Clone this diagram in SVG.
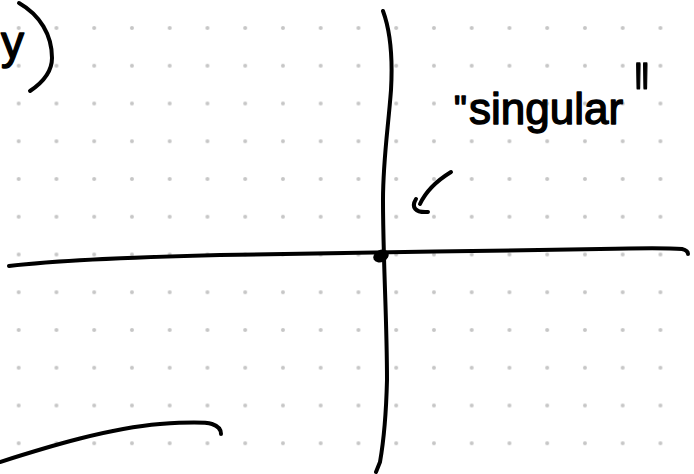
<svg xmlns="http://www.w3.org/2000/svg" width="694" height="474" viewBox="0 0 694 474">
  <style>
    .ink { fill: none; stroke: #000; stroke-width: 4; stroke-linecap: round; stroke-linejoin: round; }
    .hand { font-family: "Liberation Sans", "DejaVu Sans", sans-serif; fill: #000; stroke: #000; stroke-width: 1.4; stroke-linejoin: round; }
  </style>
  <defs>
    <pattern id="dots" patternUnits="userSpaceOnUse" x="-0.175" y="9.125" width="37.75" height="37.75">
      <circle cx="18.875" cy="18.875" r="2" fill="#c6c6c6"/>
    </pattern>
  </defs>
  <rect width="694" height="474" fill="#ffffff"/>
  <rect width="694" height="474" fill="url(#dots)"/>

  <g id="label-y">
    <text class="hand" x="1" y="58" font-size="46">y</text>
    <path class="ink" d="M19,3 C40,15 52,35 52,58 C52,72 42,83 30,91"/>
  </g>

  <g id="axes">
    <path class="ink" d="M9,266 C60,260 140,257 220,255 C330,253 480,251 600,249 C640,248 670,248 682,249 C686,250 688,252 688,254"/>
    <path class="ink" d="M383,11 C390,30 393,55 391,90 C388,130 383,160 383,200 C383,260 387,320 387,380 C386,420 383,445 380,462 L376,472"/>
    <ellipse cx="381" cy="256" rx="8" ry="6" fill="#000" transform="rotate(-25 381 256)"/>
  </g>

  <g id="curve">
    <path class="ink" d="M0,462 C50,446 110,428 160,424 C190,422 205,422 212,424 C218,426 221,430 221,434"/>
  </g>

  <g id="singular-label">
    <text class="hand" x="454" y="122" font-size="36">"</text>
    <text class="hand" x="469" y="124" font-size="44">singular</text>
    <text class="hand" x="0" y="0" font-size="48" transform="translate(635 63) scale(0.8 2.3) translate(0 34)">"</text>
  </g>

  <g id="connectors">
    <path class="ink" d="M451,172 C438,180 426,191 420,204"/>
    <path class="ink" d="M416,199 C411,207 415,213 428,212"/>
  </g>
</svg>
